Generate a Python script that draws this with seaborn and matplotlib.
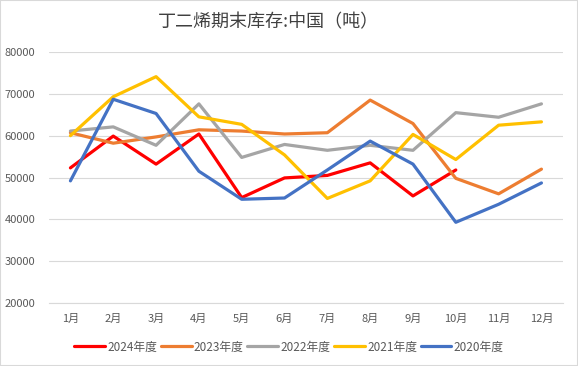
import matplotlib
matplotlib.use("Agg")
import matplotlib.pyplot as plt
from matplotlib.patches import Rectangle
from matplotlib.lines import Line2D
import seaborn as sns
import pandas as pd

# 数据
months = ["1月", "2月", "3月", "4月", "5月", "6月", "7月", "8月", "9月", "10月", "11月", "12月"]
s2024 = [52300, 59900, 53200, 60400, 45200, 49900, 50500, 53500, 45600, 51800]
s2023 = [60700, 58200, 59700, 61400, 61100, 60400, 60700, 68500, 62900, 49800, 46100, 52000]
s2022 = [61100, 62100, 57700, 67600, 54800, 57900, 56500, 57700, 56500, 65500, 64400, 67600]
s2021 = [60000, 69300, 74100, 64500, 62700, 55400, 45000, 49200, 60300, 54300, 62500, 63300]
s2020 = [49200, 68700, 65300, 51500, 44800, 45100, 51800, 58700, 53200, 39300, 43600, 48700]

series_names = ["2024年度", "2023年度", "2022年度", "2021年度", "2020年度"]
series_vals = [s2024, s2023, s2022, s2021, s2020]
colors = ["#ff0000", "#ed7d31", "#a5a5a5", "#ffc000", "#4472c4"]

rows = []
for name, vals in zip(series_names, series_vals):
    for m, v in zip(months, vals):
        rows.append({"月份": m, "库存": v, "年度": name})
df = pd.DataFrame(rows)

sns.set_style("white")
plt.rcParams["font.family"] = ["Noto Sans CJK SC", "DejaVu Sans"]

fig = plt.figure(figsize=(5.78, 3.66), dpi=100)
ax = fig.add_axes([0.0848, 0.172, 0.889, 0.686])

sns.lineplot(data=df, x="月份", y="库存", hue="年度", hue_order=series_names,
             palette=colors, estimator=None, sort=False, linewidth=2.3,
             legend=False, ax=ax)

ax.set_xlim(-0.5, 11.5)
ax.set_ylim(20000, 80000)
ax.set_yticks(range(20000, 80001, 10000))
ax.grid(axis="y", color="#d9d9d9", linewidth=0.8)
ax.set_axisbelow(True)
for side in ["left", "right", "top"]:
    ax.spines[side].set_visible(False)
ax.spines["bottom"].set_color("#d9d9d9")
ax.tick_params(axis="both", length=0, labelsize=8, labelcolor="#595959")
ax.tick_params(axis="y", pad=10)
ax.tick_params(axis="x", pad=8)
ax.set_xlabel("")
ax.set_ylabel("")

fig.suptitle("丁二烯期末库存:中国（吨）", x=0.465, y=0.965, fontsize=13,
             color="#404040", fontweight="medium")

handles = [Line2D([0], [0], color=c, linewidth=2.3) for c in colors]
fig.legend(handles, series_names, loc="center", bbox_to_anchor=(0.5, 0.052), ncol=5,
           frameon=False, fontsize=8.5, labelcolor="#595959", handlelength=2.6,
           handletextpad=0.2, columnspacing=0.3)

fig.patches.append(Rectangle((0, 0), 1, 1, transform=fig.transFigure, fill=False,
                             edgecolor="#d9d9d9", linewidth=1.5))

fig.savefig("out.png", dpi=100)
